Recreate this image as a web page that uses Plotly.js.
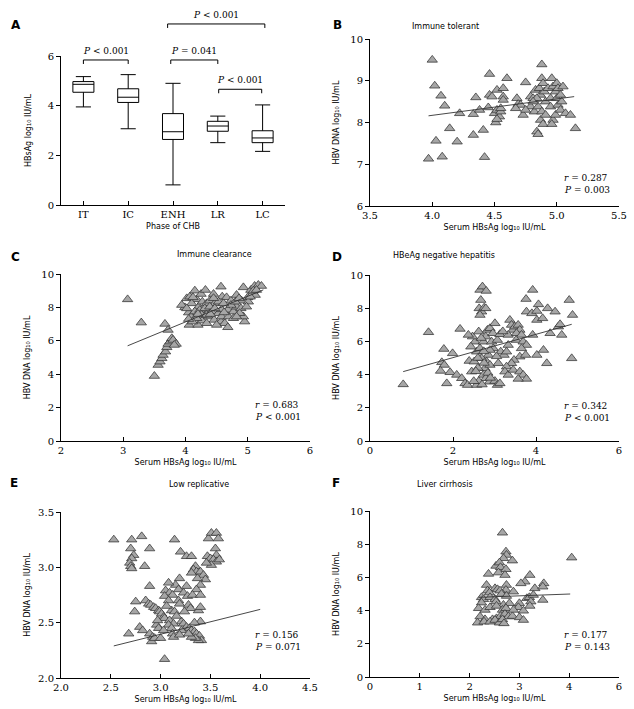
<!DOCTYPE html>
<html>
<head>
<meta charset="utf-8">
<script src="https://cdn.plot.ly/plotly-3.0.1.min.js"></script>
<style>
  html, body { margin: 0; padding: 0; background: #fff; }
  #chart { width: 634px; height: 709px; }
</style>
</head>
<body>
<div id="chart"></div>
<script>
// Panel A: HBsAg by phase (box summary)
const phases = ['IT', 'IC', 'ENH', 'LR', 'LC'];
const lowA  = [3.95, 3.07, 0.81, 2.51, 2.16];
const q1A   = [4.54, 4.13, 2.64, 2.97, 2.51];
const medA  = [4.86, 4.34, 2.95, 3.18, 2.70];
const q3A   = [4.97, 4.68, 3.68, 3.37, 2.99];
const highA = [5.17, 5.25, 4.90, 3.58, 4.03];

// significance brackets (category index from/to, height in log10 IU/mL)
const brFrom = [0.0, 1.95, 3.02, 1.88];
const brTo   = [1.0, 3.0, 3.98, 4.05];
const brY    = [5.84, 5.84, 4.66, 7.29];
const brText = ['<i>P</i> < 0.001', '<i>P</i> = 0.041', '<i>P</i> < 0.001', '<i>P</i> < 0.001'];

// Panel B: immune tolerant
const xB = [4.00,4.02,4.07,4.10,4.03,3.97,4.08,4.14,4.20,4.22,
            4.33,4.41,4.42,4.35,4.33,4.38,4.46,4.46,4.48,4.45,
            4.52,4.50,4.52,4.51,4.54,4.55,4.57,4.57,4.57,4.60,
            4.55,4.68,4.69,4.71,4.73,4.75,4.79,4.79,4.81,4.83,
            4.82,4.84,4.85,4.88,4.88,4.86,4.89,4.87,4.90,4.85,
            4.88,4.87,4.89,4.91,4.91,4.93,4.95,4.96,4.97,4.95,
            4.97,4.96,4.99,5.00,5.00,5.01,4.99,5.01,5.03,5.04,
            5.03,5.05,5.07,5.11,5.15,4.84,4.81,4.75,4.67,4.52];
const yB = [9.50,8.88,8.64,8.40,7.56,7.13,7.18,7.86,7.54,8.22,
            7.70,7.82,7.17,8.60,8.20,8.30,9.16,8.66,8.62,8.36,
            8.78,8.22,8.30,8.00,8.14,8.26,8.82,8.62,8.54,9.06,
            8.34,8.58,8.44,8.42,8.18,8.96,8.38,8.62,8.58,8.78,
            8.26,7.78,7.72,9.39,9.06,8.82,8.94,8.66,8.74,8.38,
            8.26,8.06,7.96,8.18,8.50,8.82,8.58,9.06,8.86,8.38,
            8.06,7.96,8.74,8.58,8.94,8.42,8.18,8.82,8.66,8.50,
            8.30,8.86,8.22,8.18,7.86,8.58,8.50,8.30,8.34,8.08];
const fitBx = [3.97, 5.14], fitBy = [8.16, 8.62];

// Panel C: immune clearance
const xC = [3.07,3.29,3.50,3.56,3.59,3.62,3.64,3.68,3.70,3.72,
            3.75,3.78,3.80,3.85,3.82,3.67,3.72,3.99,4.02,4.07,
            4.15,4.18,4.25,4.32,4.45,4.57,4.59,4.66,4.73,4.82,
            4.93,5.05,5.11,5.17,5.22,5.12,5.00,4.90,5.01,3.94,
            4.05,4.09,4.06,4.20,4.27,4.37,4.30,4.42,4.46,4.57,
            4.63,4.68,4.53,4.58,4.68,4.77,4.82,4.89,4.95,4.93,
            4.73,4.10,4.21,4.27,4.34,4.39,4.47,4.53,4.61,4.15,
            4.23,4.31,4.39,4.47,4.02,4.26,4.34,4.18,4.11,4.34,
            4.50,4.58,4.69,4.80,4.86,5.04,5.09,5.14,4.98,4.87,
            4.77,4.82,4.12,4.40,4.62,4.20,4.05,4.45];
const yC = [8.48,7.09,3.89,4.55,4.75,4.95,5.15,5.35,5.61,5.81,
            5.95,6.15,6.05,5.81,5.75,7.01,6.65,8.00,8.54,8.64,
            9.00,8.48,8.80,9.04,8.80,9.24,8.64,8.60,8.40,8.74,
            9.20,9.04,9.28,9.34,9.28,8.74,8.60,8.40,8.34,8.14,
            7.69,7.45,6.95,6.95,7.21,7.45,7.65,7.75,7.25,7.15,
            7.05,6.81,7.65,7.88,7.85,7.75,8.04,7.94,7.15,7.45,
            8.14,8.24,8.04,8.34,8.24,8.40,8.24,8.34,8.24,7.75,
            7.84,7.94,8.04,7.94,7.94,7.55,7.55,7.35,7.15,7.05,
            6.95,7.45,7.45,8.34,8.54,8.64,9.00,9.04,8.04,7.65,
            7.35,7.45,8.60,7.60,7.70,7.60,7.30,8.55];
const fitCx = [3.07, 5.25], fitCy = [5.70, 9.05];

// Panel D: HBeAg negative hepatitis
const xD = [0.80,1.41,2.17,1.78,1.73,1.79,1.99,1.70,1.93,1.85,
            2.09,2.21,2.29,2.35,2.39,2.45,2.51,2.57,2.53,2.47,
            2.62,2.65,2.71,2.80,2.67,2.63,2.69,2.75,2.79,2.65,
            2.37,2.43,2.57,2.73,2.77,2.81,2.85,2.69,2.65,2.73,
            2.79,2.83,2.89,2.96,3.01,2.93,2.97,2.89,2.89,2.79,
            2.88,3.01,3.07,3.13,3.09,3.15,3.23,3.07,3.13,3.29,
            3.33,3.37,3.41,3.44,3.33,3.49,3.57,3.61,3.53,3.65,
            3.52,3.69,3.77,3.65,3.61,3.47,3.41,3.29,3.25,3.33,
            3.45,3.61,3.69,3.77,3.57,3.75,3.77,3.90,4.02,3.92,
            3.76,4.06,4.28,4.46,4.02,4.18,4.26,4.34,4.54,4.58,
            4.62,4.02,4.16,4.80,4.88,4.86,3.92,2.60,2.62,2.70,
            2.75,2.55,2.84,2.68,2.90,3.05,2.60,2.74,3.20,2.50];
const yD = [3.41,6.55,6.75,5.54,4.74,4.58,5.28,4.22,4.14,3.47,
            3.98,3.78,3.47,3.37,4.82,4.18,4.78,5.38,5.98,6.29,
            6.59,9.10,9.30,9.04,8.49,7.99,7.79,8.03,7.99,7.59,
            6.39,5.68,3.37,3.98,4.38,4.78,5.18,4.98,5.58,5.98,
            6.29,6.69,6.79,6.49,7.09,5.98,5.58,5.48,4.58,3.78,
            3.57,3.61,3.37,3.47,4.68,5.38,5.18,6.08,6.43,5.38,
            5.78,7.29,6.99,6.69,6.39,6.89,6.99,6.69,6.49,6.39,
            6.08,5.98,5.78,5.58,5.08,4.88,4.68,4.48,4.18,3.98,
            4.28,4.18,3.98,3.74,3.74,5.18,7.79,7.69,7.83,9.10,
            8.55,8.23,7.99,7.79,5.18,5.48,4.68,6.49,6.89,7.03,
            6.39,7.29,7.39,8.49,7.59,4.98,6.39,4.40,3.60,3.40,
            4.70,4.20,4.10,6.20,3.80,5.10,5.00,5.40,6.60,3.60];
const fitDx = [0.80, 4.86], fitDy = [4.18, 7.03];

// Panel E: low replicative
const xE = [2.53,2.71,2.81,3.14,2.70,2.73,2.71,2.69,2.70,2.71,
            2.89,2.84,3.20,3.26,3.31,3.48,3.51,3.56,3.58,3.55,
            3.56,3.47,3.50,3.53,3.56,3.59,3.51,3.46,3.35,3.33,
            3.36,3.31,3.40,3.43,3.45,3.40,3.37,3.19,3.15,3.18,
            3.08,3.05,2.89,3.26,3.23,3.27,3.36,3.32,3.40,2.75,
            2.74,2.85,2.88,2.90,2.93,2.95,2.98,2.99,3.01,3.03,
            3.04,3.09,3.12,3.04,3.08,3.18,3.19,3.11,3.14,3.28,
            3.30,3.38,3.40,3.21,3.23,3.26,3.29,3.31,3.34,3.36,
            3.39,3.41,3.38,3.35,3.31,3.40,3.09,3.13,3.08,3.11,
            3.12,3.13,3.21,3.19,2.96,2.98,3.03,2.79,2.82,2.89,
            2.92,2.68,2.91,2.94,3.04,3.16,3.24,3.06,2.97,3.28,
            3.34,3.00];
const yE = [3.25,3.25,3.28,3.25,3.17,3.11,3.08,3.04,3.01,2.99,
            3.17,3.01,3.14,3.10,3.10,3.26,3.31,3.31,3.26,3.17,
            3.11,3.10,3.08,3.07,3.05,3.07,3.02,3.04,3.01,2.98,
            2.96,2.95,2.96,2.93,2.89,2.84,2.90,2.90,2.84,2.80,
            2.86,2.79,2.83,2.83,2.77,2.74,2.80,2.75,2.75,2.69,
            2.60,2.70,2.67,2.66,2.64,2.63,2.61,2.60,2.58,2.55,
            2.54,2.77,2.75,2.74,2.70,2.70,2.67,2.61,2.60,2.66,
            2.63,2.61,2.64,2.51,2.49,2.46,2.45,2.43,2.42,2.40,
            2.38,2.34,2.34,2.36,2.37,2.51,2.52,2.49,2.48,2.45,
            2.40,2.37,2.43,2.39,2.48,2.45,2.43,2.46,2.43,2.40,
            2.37,2.40,2.33,2.36,2.17,2.56,2.60,2.65,2.52,2.40,
            2.50,2.36];
const fitEx = [2.53, 4.00], fitEy = [2.29, 2.62];

// Panel F: liver cirrhosis
const xF = [2.66,2.73,2.74,2.68,2.86,2.53,2.60,2.62,2.73,2.58,
            2.71,2.38,2.34,2.36,2.51,2.56,2.74,2.73,2.88,2.40,
            2.61,3.21,3.11,3.03,3.49,3.31,3.47,2.24,2.28,2.41,
            2.51,2.64,2.74,2.24,2.53,2.68,2.80,3.00,3.15,3.20,
            3.28,3.23,3.21,3.47,2.18,2.31,2.41,2.54,2.66,2.73,
            2.98,3.08,2.21,2.31,2.46,2.54,2.62,2.71,2.78,2.86,
            3.00,3.08,2.88,2.16,2.29,2.41,2.51,2.60,2.66,2.69,
            4.05];
const yF = [8.69,7.55,7.35,7.15,7.01,6.69,6.89,6.61,6.49,6.29,
            6.14,6.21,5.54,5.20,5.34,5.28,5.54,5.24,5.14,5.08,
            5.20,6.14,5.74,5.64,5.64,5.34,5.44,4.80,4.68,4.80,
            4.68,5.00,4.88,4.48,4.54,4.34,4.44,4.44,4.74,4.80,
            4.94,4.54,4.28,4.64,4.14,4.04,4.20,4.28,4.04,4.14,
            4.20,3.99,3.64,3.47,3.47,3.53,3.67,3.79,3.64,3.67,
            3.59,3.43,4.04,3.27,3.33,3.33,3.43,3.27,3.47,3.23,
            7.19];
const fitFx = [2.18, 4.02], fitFy = [4.80, 5.00];
const ticksF = ['0', '1', '2', '3', '4', '6'];

// page is 634 x 709 with zero margins, so positions are given in pixels
const W = 634, H = 709;
const px = v => v / W;
const py = v => 1 - v / H;

const tri = {
    symbol: 'triangle-up', size: 9, color: '#a6a6a6',
    line: { color: '#333', width: 0.75 }
};
const fitLine = { color: '#333', width: 0.9 };

function scatterPanel(n, x, y, fx, fy) {
    const xa = 'x' + n, ya = 'y' + n;
    return [
        { type: 'scatter', mode: 'markers', x: x, y: y, xaxis: xa, yaxis: ya,
          marker: tri, cliponaxis: false },
        { type: 'scatter', mode: 'lines', x: fx, y: fy, xaxis: xa, yaxis: ya,
          line: fitLine }
    ];
}

const traces = [
    { type: 'box', x: phases, lowerfence: lowA, q1: q1A, median: medA, q3: q3A,
      upperfence: highA, xaxis: 'x', yaxis: 'y', fillcolor: '#fff',
      line: { color: '#000', width: 1 }, whiskerwidth: 0.72, boxpoints: false }
].concat(
    scatterPanel(2, xB, yB, fitBx, fitBy),
    scatterPanel(3, xC, yC, fitCx, fitCy),
    scatterPanel(4, xD, yD, fitDx, fitDy),
    scatterPanel(5, xE, yE, fitEx, fitEy),
    scatterPanel(6, xF, yF, fitFx, fitFy)
);

const tickFont = { family: 'DejaVu Serif, serif', size: 10, color: '#000' };
const titleFont = { family: 'DejaVu Sans, sans-serif', size: 8, color: '#000' };
const dnaTitle = 'HBV DNA log\u2081\u2080 IU/mL';
const serumTitle = 'Serum HBsAg log\u2081\u2080 IU/mL';

function ax(extra) {
    return Object.assign({
        showline: true, linecolor: '#000', linewidth: 1,
        ticks: 'outside', ticklen: 4, tickcolor: '#000', tickwidth: 1,
        showgrid: false, zeroline: false, tickfont: tickFont, fixedrange: true
    }, extra);
}
function xt(text, standoff) { return { text: text, font: titleFont, standoff: standoff }; }

const colL = [px(61), px(310)], colR = [px(370), px(619)];
const domA = [py(205), py(56)];

const layout = {
    width: W, height: H,
    margin: { l: 0, r: 0, t: 0, b: 0 },
    paper_bgcolor: '#fff', plot_bgcolor: '#fff',
    showlegend: false,
    boxgap: 0.33,
    xaxis:  ax({ domain: [px(61), px(285)], anchor: 'y', type: 'category', range: [-0.5, 4.5],
                 ticks: 'inside', title: xt('Phase of CHB', 4) }),
    yaxis:  ax({ domain: domA, anchor: 'x', range: [0, 6], dtick: 2,
                 title: xt('HBsAg log\u2081\u2080 IU/mL', 14) }),
    xaxis2: ax({ domain: colR, anchor: 'y2', range: [3.5, 5.5], dtick: 0.5, tickformat: '.1f',
                 ticks: 'inside', title: xt(serumTitle, 4) }),
    yaxis2: ax({ domain: [py(206), py(39)], anchor: 'x2', range: [6, 10], dtick: 1,
                 title: xt(dnaTitle, 9) }),
    xaxis3: ax({ domain: colL, anchor: 'y3', range: [2, 6], dtick: 1,
                 ticks: 'inside', title: xt(serumTitle, 4) }),
    yaxis3: ax({ domain: [py(441), py(274)], anchor: 'x3', range: [0, 10], dtick: 2,
                 title: xt(dnaTitle, 9) }),
    xaxis4: ax({ domain: colR, anchor: 'y4', range: [0, 6], dtick: 2,
                 ticks: 'inside', title: xt(serumTitle, 4) }),
    yaxis4: ax({ domain: [py(441), py(275)], anchor: 'x4', range: [0, 10], dtick: 2,
                 title: xt(dnaTitle, 9) }),
    xaxis5: ax({ domain: colL, anchor: 'y5', range: [2, 4.5], dtick: 0.5, tickformat: '.1f',
                 ticks: 'inside', title: xt(serumTitle, 4) }),
    yaxis5: ax({ domain: [py(678), py(512)], anchor: 'x5', range: [2, 3.5], dtick: 0.5, tickformat: '.1f',
                 title: xt(dnaTitle, 6) }),
    xaxis6: ax({ domain: colR, anchor: 'y6', range: [0, 5], tickvals: [0, 1, 2, 3, 4, 5], ticktext: ticksF,
                 ticks: 'inside', title: xt(serumTitle, 4) }),
    yaxis6: ax({ domain: [py(677), py(511)], anchor: 'x6', range: [0, 10], dtick: 2,
                 title: xt(dnaTitle, 9) }),
    shapes: [],
    annotations: []
};

// brackets in panel A (y converted through the panel's 0-6 scale onto the page)
const yToPaper = v => domA[0] + v / 6 * (domA[1] - domA[0]);
const tickDrop = 4 / H;
brFrom.forEach((f, i) => {
    const t = brTo[i], yp = yToPaper(brY[i]);
    const line = { color: '#000', width: 1 };
    layout.shapes.push(
        { type: 'line', xref: 'x', yref: 'paper', x0: f, x1: t, y0: yp, y1: yp, line: line },
        { type: 'line', xref: 'x', yref: 'paper', x0: f, x1: f, y0: yp, y1: yp - tickDrop, line: line },
        { type: 'line', xref: 'x', yref: 'paper', x0: t, x1: t, y0: yp, y1: yp - tickDrop, line: line }
    );
    layout.annotations.push({
        xref: 'x', yref: 'paper', x: (f + t) / 2, y: yp + 2 / H, yanchor: 'bottom',
        text: brText[i], showarrow: false, font: { family: 'DejaVu Serif, serif', size: 9, color: '#000' }
    });
});

// panel letters
const letters = [['A', 9, 16], ['B', 337, 16], ['C', 9, 257], ['D', 337, 257], ['E', 8, 492], ['F', 336, 492]];
letters.forEach(l => layout.annotations.push({
    xref: 'paper', yref: 'paper', x: px(l[1]), y: py(l[2]), text: '<b>' + l[0] + '</b>',
    showarrow: false, font: { family: 'DejaVu Sans, sans-serif', size: 12, color: '#000' }
}));

// panel titles
const titles = [['Immune tolerant', 481, 20], ['Immune clearance', 175, 254],
                ['HBeAg negative hepatitis', 497, 255], ['Low replicative', 167, 491],
                ['Liver cirrhosis', 475, 491]];
titles.forEach(t => layout.annotations.push({
    xref: 'paper', yref: 'paper', x: px(t[1]), y: py(t[2]), text: t[0],
    showarrow: false, font: titleFont
}));

// correlation statistics
const stats = [['0.287', '= 0.003', 562, 171], ['0.683', '< 0.001', 253, 405],
               ['0.342', '< 0.001', 562, 406], ['0.156', '= 0.071', 253, 642],
               ['0.177', '= 0.143', 562, 642]];
stats.forEach(s => {
    const f = { family: 'DejaVu Serif, serif', size: 9, color: '#000' };
    layout.annotations.push(
        { xref: 'paper', yref: 'paper', x: px(s[2]), y: py(s[3]), xanchor: 'left',
          text: '<i>r</i> = ' + s[0], showarrow: false, font: f },
        { xref: 'paper', yref: 'paper', x: px(s[2]), y: py(s[3] + 12), xanchor: 'left',
          text: '<i>P</i> ' + s[1], showarrow: false, font: f }
    );
});

Plotly.newPlot('chart', traces, layout, { displayModeBar: false, staticPlot: true });
</script>
</body>
</html>
